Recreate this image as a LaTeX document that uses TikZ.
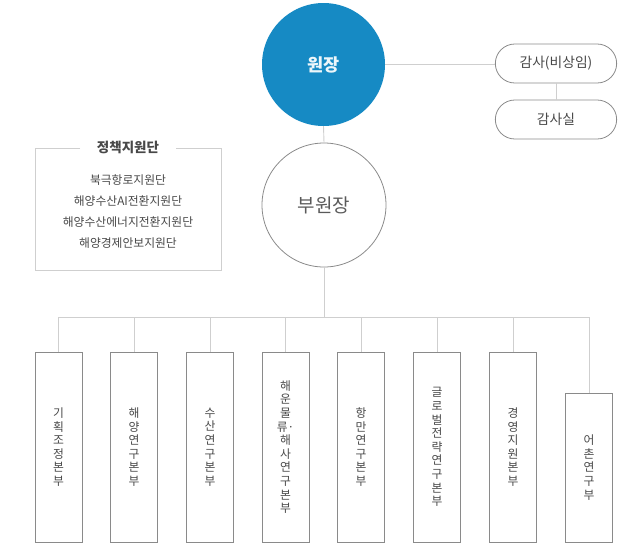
\documentclass[tikz,border=0pt]{standalone}
\usepackage{fontspec}
\setmainfont{Noto Sans CJK KR}
\usetikzlibrary{shapes.misc}
\definecolor{chiefblue}{HTML}{168AC4}
\definecolor{linegray}{HTML}{CFCFCF}
\definecolor{boxgray}{HTML}{8A8A8A}
\definecolor{txtgray}{HTML}{484848}
\tikzset{
  conn/.style={draw=linegray, line width=0.9pt},
  dept/.style={draw=boxgray, line width=0.8pt, minimum width=47pt, text=txtgray, font=\fontsize{11.8}{13.6}\selectfont, align=center, inner sep=0pt},
  pill/.style={rounded rectangle, draw=boxgray, line width=0.8pt, minimum width=128pt, minimum height=39pt, text=txtgray, font=\fontsize{13.8}{15}\selectfont},
}
\begin{document}
\begin{tikzpicture}[x=1pt,y=-1pt]
\useasboundingbox (0,0) rectangle (640,558);
% chief
\node[circle, fill=chiefblue, minimum size=123pt, inner sep=0pt, text=white!92!chiefblue, font=\fontsize{17.5}{18}\selectfont\bfseries] (chief) at (323.5,64.5) {원장};
\node[pill] (audit) at (556,63.5) {감사(비상임)};
\node[pill] (auditoff) at (556,119.5) {감사실};
\node[circle, draw=boxgray, line width=0.8pt, minimum size=124pt, inner sep=0pt, text=txtgray!90, font=\fontsize{19}{20}\selectfont] (vice) at (324,205) {부원장};
\draw[conn] (chief.east) -- (chief.east -| audit.west);
\draw[conn] (audit.south) -- (auditoff.north);
\draw[conn] (chief.south) -- (vice.north);
% policy box
\node[inner sep=0pt, font=\fontsize{13.5}{15}\selectfont\bfseries, text=txtgray] (ptitle) at (128,147) {정책지원단};
\coordinate (pbl) at (35,270);
\coordinate (pbr) at (221,270);
\draw[draw=linegray, line width=0.9pt] (80,148) -- (35,148) -- (pbl) -- (pbr) -- (221,148) -- (176,148);
\node[align=center, text=txtgray, font=\fontsize{11.8}{20.8}\selectfont, inner sep=0pt] (plist) at (128,211.5) {북극항로지원단\\해양수산AI전환지원단\\해양수산에너지전환지원단\\해양경제안보지원단};
% departments
\node[dept, minimum height=190pt] (d1) at (58.5,447) {기\\획\\조\\정\\본\\부};
\node[dept, minimum height=190pt] (d2) at (134,447) {해\\양\\연\\구\\본\\부};
\node[dept, minimum height=190pt] (d3) at (210,447) {수\\산\\연\\구\\본\\부};
\node[dept, minimum height=190pt] (d4) at (285.5,447) {해\\운\\물\\류·\\해\\사\\연\\구\\본\\부};
\node[dept, minimum height=190pt] (d5) at (361,447) {항\\만\\연\\구\\본\\부};
\node[dept, minimum height=190pt] (d6) at (437,447) {글\\로\\벌\\전\\략\\연\\구\\본\\부};
\node[dept, minimum height=190pt] (d7) at (513,447) {경\\영\\지\\원\\본\\부};
\node[dept, minimum height=149pt] (d8) at (589,467.5) {어\\촌\\연\\구\\부};
\coordinate (bus) at (324,317);
\draw[conn] (vice.south) -- (bus);
\draw[conn] (d1.north) -- (d1.north |- bus) -- (d8.north |- bus) -- (d8.north);
\foreach \d in {d2,d3,d4,d5,d6,d7} \draw[conn] (\d.north |- bus) -- (\d.north);
\end{tikzpicture}
\end{document}
